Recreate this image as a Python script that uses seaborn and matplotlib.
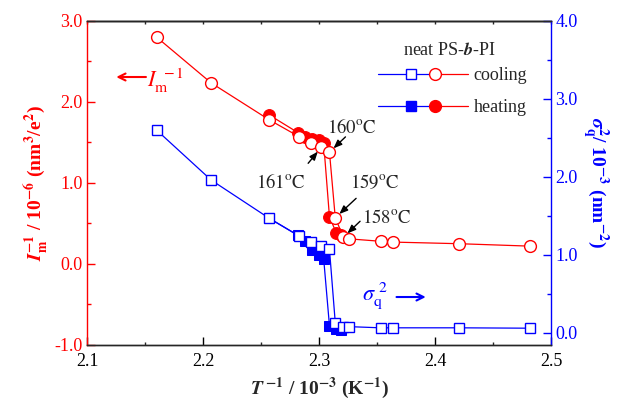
import numpy as np
import matplotlib
matplotlib.use("Agg")
import matplotlib.pyplot as plt
import seaborn as sns
from matplotlib.lines import Line2D
from matplotlib.legend_handler import HandlerBase
from matplotlib.ticker import MultipleLocator, FormatStrFormatter

# cooling run (open symbols)
x_cool = [2.160, 2.207, 2.257, 2.283, 2.293, 2.302, 2.309, 2.314, 2.321, 2.326, 2.353, 2.364, 2.421, 2.482]
im_cool = [2.80, 2.235, 1.78, 1.57, 1.49, 1.44, 1.38, 0.57, 0.33, 0.31, 0.28, 0.27, 0.25, 0.22]
sig_cool = [2.60, 1.96, 1.47, 1.24, 1.16, 1.12, 1.07, 0.13, 0.08, 0.08, 0.065, 0.065, 0.065, 0.06]

# heating run (filled symbols)
x_heat = [2.257, 2.282, 2.288, 2.294, 2.300, 2.304, 2.309, 2.315, 2.319]
im_heat = [1.84, 1.62, 1.57, 1.54, 1.53, 1.49, 0.58, 0.38, 0.36]
sig_heat = [1.47, 1.25, 1.18, 1.06, 1.00, 0.95, 0.09, 0.05, 0.04]

# temperature labels and the cooling point each one marks
temp_labels = [r"$\mathrm{161}^{\rm o}\mathrm{C}$", r"$\mathrm{160}^{\rm o}\mathrm{C}$",
               r"$\mathrm{159}^{\rm o}\mathrm{C}$", r"$\mathrm{158}^{\rm o}\mathrm{C}$"]
temp_idx = [5, 6, 7, 8]

RED = "#ff0000"
BLUE = "#0000ff"

sns.set_style("ticks")
plt.rcParams["font.family"] = ["Liberation Serif", "DejaVu Serif"]
plt.rcParams["mathtext.fontset"] = "stix"
plt.rcParams["xtick.direction"] = "in"
plt.rcParams["ytick.direction"] = "in"

fig = plt.figure(figsize=(6.19, 4.03), dpi=100)
ax = fig.add_axes([0.1406, 0.144, 0.7496, 0.804])
ax2 = ax.twinx()

# left axis: I_m^-1
sns.lineplot(x=x_heat, y=im_heat, ax=ax, color=RED, lw=0.9, marker="o", markersize=8.5,
             markerfacecolor=RED, markeredgecolor=RED, sort=False)
sns.lineplot(x=x_cool, y=im_cool, ax=ax, color=RED, lw=0.9, marker="o", markersize=8.5,
             markerfacecolor="white", markeredgecolor=RED, markeredgewidth=1.0, sort=False)

# right axis: sigma_q^2
sns.lineplot(x=x_heat, y=sig_heat, ax=ax2, color=BLUE, lw=0.9, marker="s", markersize=7,
             markerfacecolor=BLUE, markeredgecolor=BLUE, sort=False)
sns.lineplot(x=x_cool, y=sig_cool, ax=ax2, color=BLUE, lw=0.9, marker="s", markersize=7,
             markerfacecolor="white", markeredgecolor=BLUE, markeredgewidth=1.0, sort=False)

ax.set_xlim(2.1, 2.5)
ax.set_ylim(-1.0, 3.0)
ax2.set_ylim(-0.155, 4.0)

ax.xaxis.set_major_locator(MultipleLocator(0.1))
ax.xaxis.set_minor_locator(MultipleLocator(0.05))
ax.xaxis.set_major_formatter(FormatStrFormatter("%.1f"))
ax.yaxis.set_major_locator(MultipleLocator(1.0))
ax.yaxis.set_minor_locator(MultipleLocator(0.5))
ax.yaxis.set_major_formatter(FormatStrFormatter("%.1f"))
ax2.yaxis.set_major_locator(MultipleLocator(1.0))
ax2.yaxis.set_minor_locator(MultipleLocator(0.5))
ax2.yaxis.set_major_formatter(FormatStrFormatter("%.1f"))

ax.tick_params(axis="x", which="major", length=6, width=1, labelsize=13, colors="black", pad=6)
ax.tick_params(axis="x", which="minor", length=2, width=1)
ax.tick_params(axis="y", which="major", length=6, width=1, labelsize=13, colors=RED, pad=3)
ax.tick_params(axis="y", which="minor", length=3, width=1, colors=RED)
ax2.tick_params(axis="y", which="major", length=6, width=1, labelsize=13, colors=BLUE, pad=3)
ax2.tick_params(axis="y", which="minor", length=3, width=1, colors=BLUE)

top = ax.secondary_xaxis("top")
top.xaxis.set_major_locator(MultipleLocator(0.05))
top.tick_params(axis="x", which="both", direction="in", length=2.5, width=1, labeltop=False)

for a in (ax, ax2):
    for s in a.spines.values():
        s.set_linewidth(1.0)
ax.spines["left"].set_color(RED)
ax.spines["right"].set_visible(False)
ax2.spines["left"].set_visible(False)
ax2.spines["right"].set_color(BLUE)
top.spines["top"].set_linewidth(1.0)

ax.set_xlabel(r"$\mathbfit{T}^{\ \mathbf{-1}}$ / 10$^{\mathbf{-3}}$ (K$^{\mathbf{-1}}$)",
              fontsize=14, fontweight="bold", labelpad=4)
ax.set_ylabel(r"$\mathbfit{I}_{\mathbf{m}}^{\mathbf{-1}}$ / 10$^{\mathbf{-6}}$ (nm$^{\mathbf{3}}$/e$^{\mathbf{2}}$)",
              fontsize=14, fontweight="bold", color=RED, labelpad=2)
ax2.set_ylabel(r"$\mathbfit{\sigma}_{\mathbf{q}}^{\mathbf{2}}$/ 10$^{\mathbf{-3}}$ (nm$^{\mathbf{-2}}$)",
               fontsize=14, fontweight="bold", color=BLUE, rotation=270, labelpad=24)

# temperature annotations (arrow tail offset, text offset in points)
arrow_off = [(-9.5, -11.5), (11.5, 11), (15, 14), (12, 11.5)]
text_off = [(-29, -25), (16, 18), (28.5, 25.5), (31, 13.5)]
for lab, i, ao, to in zip(temp_labels, temp_idx, arrow_off, text_off):
    pt = (x_cool[i], im_cool[i])
    ax.annotate("", xy=pt, xytext=ao, textcoords="offset points",
                arrowprops=dict(arrowstyle="-|>,head_length=0.5,head_width=0.2", color="black",
                                lw=1.0, shrinkA=0, shrinkB=4))
    ax.annotate(lab, xy=pt, xytext=to, textcoords="offset points", ha="center", va="center",
                fontsize=13.5, zorder=5)

# axis indicators
ax.annotate("", xy=(0.063, 0.827), xytext=(0.127, 0.827), xycoords="axes fraction",
            arrowprops=dict(arrowstyle="->,head_length=0.5,head_width=0.25", color=RED, lw=1.5,
                            shrinkA=0, shrinkB=0))
ax.text(0.13, 0.815, r"$\mathit{I}_{\rm m}^{\ \rm -1}$", transform=ax.transAxes, color=RED,
        fontsize=16, va="center", ha="left")
ax.text(0.592, 0.152, r"$\mathit{\sigma}_{\rm q}^{\ 2}$", transform=ax.transAxes, color=BLUE,
        fontsize=16, va="center", ha="left")
ax.annotate("", xy=(0.73, 0.148), xytext=(0.667, 0.148), xycoords="axes fraction",
            arrowprops=dict(arrowstyle="->,head_length=0.5,head_width=0.25", color=BLUE, lw=1.5,
                            shrinkA=0, shrinkB=0))


class PairHandler(HandlerBase):
    def create_artists(self, legend, orig_handle, xdescent, ydescent, width, height, fontsize, trans):
        sq, ci = orig_handle
        x0 = -xdescent
        y = height / 2 - ydescent
        l1 = Line2D([x0, x0 + 0.62 * width], [y, y], color=sq.get_color(), lw=0.9)
        l2 = Line2D([x0 + 0.62 * width, x0 + width], [y, y], color=ci.get_color(), lw=0.9)
        m1 = Line2D([x0 + 0.37 * width], [y], ls="none")
        m1.update_from(sq)
        m1.set_xdata([x0 + 0.37 * width]); m1.set_ydata([y]); m1.set_linestyle("none")
        m2 = Line2D([x0 + 0.63 * width], [y], ls="none")
        m2.update_from(ci)
        m2.set_xdata([x0 + 0.63 * width]); m2.set_ydata([y]); m2.set_linestyle("none")
        arts = [l1, l2, m1, m2]
        for a in arts:
            a.set_transform(trans)
        return arts


h_cool = (Line2D([], [], color=BLUE, marker="s", markersize=7, markerfacecolor="white",
                 markeredgecolor=BLUE),
          Line2D([], [], color=RED, marker="o", markersize=8.5, markerfacecolor="white",
                 markeredgecolor=RED))
h_heat = (Line2D([], [], color=BLUE, marker="s", markersize=7, markerfacecolor=BLUE,
                 markeredgecolor=BLUE),
          Line2D([], [], color=RED, marker="o", markersize=8.5, markerfacecolor=RED,
                 markeredgecolor=RED))
ax2.text(0.782, 0.91, r"neat PS-$\mathbfit{b}$-PI", transform=ax2.transAxes, fontsize=13,
         ha="center", va="center")
leg = ax2.legend([h_cool, h_heat], ["cooling", "heating"], handler_map={tuple: PairHandler()},
                 fontsize=13, frameon=False, loc="upper left", bbox_to_anchor=(0.6, 0.897),
                 handlelength=5.0, handletextpad=0.3, labelspacing=0.85, borderpad=0.2)

fig.savefig("out.png", dpi=100)
